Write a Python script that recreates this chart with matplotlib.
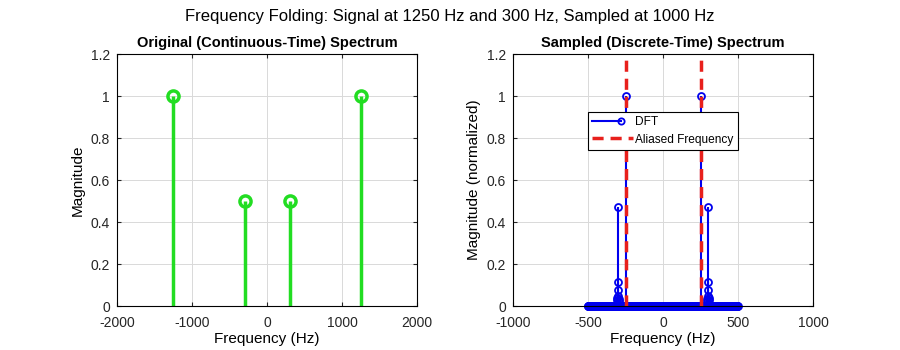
import numpy as np
import matplotlib

matplotlib.use("Agg")
import matplotlib.pyplot as plt
from matplotlib.ticker import FuncFormatter
from matplotlib.lines import Line2D
from matplotlib.legend_handler import HandlerLine2D

# continuous-time spectrum
orig_freqs = [-1250, -300, 300, 1250]
orig_mags = [1.0, 0.5, 0.5, 1.0]

# sampled spectrum: DFT bins (fs = 1000, 512 bins), mostly ~0
fs = 1000
n_bins = 512
dft_freqs = np.arange(-n_bins // 2, n_bins // 2) * fs / n_bins
# visible nonzero bins (freq Hz, normalized magnitude)
peak_freqs = [-250, -300.8, -298.8, -302.7, -296.9, -304.7, -294.9, -306.6, -292.9,
              250, 300.8, 298.8, 302.7, 296.9, 304.7, 294.9, 306.6, 292.9]
peak_mags = [1.0, 0.47, 0.115, 0.075, 0.05, 0.04, 0.032, 0.027, 0.022,
             1.0, 0.47, 0.115, 0.075, 0.05, 0.04, 0.032, 0.027, 0.022]
aliased_freqs = [-250, 250]

dft_mags = np.zeros_like(dft_freqs)
for f, m in zip(peak_freqs, peak_mags):
    dft_mags[np.argmin(np.abs(dft_freqs - f))] = m

plt.rcParams.update({
    "font.family": ["Liberation Sans", "DejaVu Sans"],
    "font.size": 10,
    "axes.linewidth": 0.8,
    "xtick.direction": "in",
    "ytick.direction": "in",
    "xtick.top": True,
    "ytick.right": True,
    "xtick.color": "#262626",
    "ytick.color": "#262626",
    "xtick.major.size": 3,
    "ytick.major.size": 3,
})

GREEN = "#22dd22"
BLUE = "#0000ee"
RED = "#e8201c"
DASH = (0, (3.2, 2.0))


class StemHandle(HandlerLine2D):
    # MATLAB-like stem legend: line with the marker at its right end
    def create_artists(self, legend, orig_handle, xdescent, ydescent,
                       width, height, fontsize, trans):
        y = height / 2 - ydescent
        x1 = -xdescent + 0.72 * width
        line = Line2D([-xdescent, x1], [y, y], color=BLUE, linewidth=1.5)
        mark = Line2D([x1], [y], color=BLUE, marker="o", markersize=4.5,
                      markerfacecolor="none", markeredgewidth=1.3)
        line.set_transform(trans)
        mark.set_transform(trans)
        return [line, mark]


fig = plt.figure(figsize=(9, 3.5), dpi=100)
ax1 = fig.add_axes([117 / 900, 44 / 350, 300 / 900, 252 / 350])
ax2 = fig.add_axes([513 / 900, 44 / 350, 300 / 900, 252 / 350])

fmt = FuncFormatter(lambda v, _: f"{v:g}")

# left: original spectrum
ml, sl, bl = ax1.stem(orig_freqs, orig_mags, basefmt=" ")
plt.setp(sl, color=GREEN, linewidth=2.5)
plt.setp(ml, color=GREEN, marker="o", markersize=8, markerfacecolor="none",
         markeredgewidth=2.5)
ax1.set_xlim(-2000, 2000)
ax1.set_xticks([-2000, -1000, 0, 1000, 2000])
ax1.set_title("Original (Continuous-Time) Spectrum", fontweight="bold",
              fontsize=10.5, pad=5)
ax1.set_ylabel("Magnitude", fontsize=11)

# right: sampled spectrum
ml, sl, bl = ax2.stem(dft_freqs, dft_mags, basefmt=" ")
plt.setp(sl, color=BLUE, linewidth=1.5)
plt.setp(ml, color=BLUE, marker="o", markersize=5, markerfacecolor="none",
         markeredgewidth=1.3, clip_on=False, zorder=2.5)
for f in aliased_freqs:
    ax2.axvline(f, color=RED, linestyle=DASH, linewidth=2.5, zorder=3)
ax2.set_xlim(-1000, 1000)
ax2.set_xticks([-1000, -500, 0, 500, 1000])
ax2.set_title("Sampled (Discrete-Time) Spectrum", fontweight="bold",
              fontsize=10.5, pad=5)
ax2.set_ylabel("Magnitude (normalized)", fontsize=11)

dft_handle = Line2D([], [], color=BLUE)
alias_handle = Line2D([], [], color=RED, linestyle=DASH, linewidth=2.5)
leg = ax2.legend([dft_handle, alias_handle], ["DFT", "Aliased Frequency"],
                 loc="upper left", bbox_to_anchor=(0.25, 0.77), borderaxespad=0,
                 fontsize=8.6, fancybox=False, framealpha=1, edgecolor="black",
                 handlelength=3.4, handletextpad=0.2, borderpad=0.35,
                 labelspacing=0.45, handler_map={dft_handle: StemHandle()})
leg.get_frame().set_linewidth(0.8)

for ax in (ax1, ax2):
    ax.set_ylim(0, 1.2)
    ax.set_yticks([0, 0.2, 0.4, 0.6, 0.8, 1.0, 1.2])
    ax.yaxis.set_major_formatter(fmt)
    ax.xaxis.set_major_formatter(fmt)
    ax.grid(True, color="#d9d9d9", linewidth=0.7)
    ax.set_axisbelow(True)
    ax.set_xlabel("Frequency (Hz)", fontsize=11, labelpad=2)
    ax.tick_params(axis="x", labelsize=10, pad=7)
    ax.tick_params(axis="y", labelsize=10, pad=5)

fig.suptitle("Frequency Folding: Signal at 1250 Hz and 300 Hz, Sampled at 1000 Hz",
             y=0.975, fontsize=12)

fig.savefig("out.png", dpi=100)
